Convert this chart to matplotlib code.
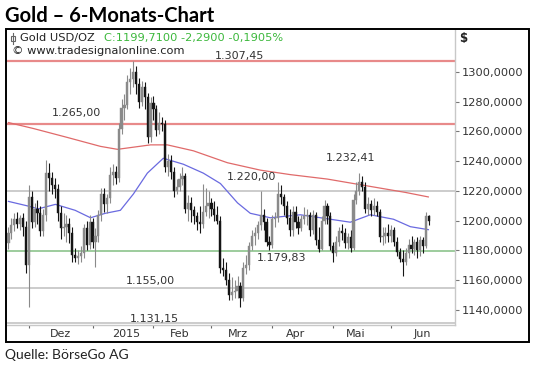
import matplotlib
matplotlib.use("Agg")
import matplotlib.pyplot as plt
from matplotlib.patches import Rectangle
from matplotlib.lines import Line2D

# --- daily bars, index = trading day ---
closes = [1192, 1197, 1201, 1198, 1202, 1196, 1170, 1216, 1199, 1208,
          1205, 1193, 1204, 1232, 1229, 1224, 1221, 1205, 1195, 1196,
          1198, 1192, 1177, 1175, 1176, 1178, 1195, 1184, 1199, 1186,
          1190, 1204, 1218, 1211, 1215, 1231, 1233, 1229, 1262, 1276,
          1278, 1293, 1295, 1300, 1292, 1280, 1290, 1283, 1256, 1279,
          1275, 1261, 1266, 1265, 1236, 1240, 1233, 1220, 1223, 1228,
          1230, 1208, 1212, 1207, 1203, 1199, 1198, 1206, 1210, 1212,
          1208, 1204, 1200, 1168, 1167, 1160, 1150, 1152, 1153, 1156,
          1148, 1168, 1170, 1183, 1190, 1192, 1197, 1204, 1199, 1186,
          1184, 1201, 1202, 1218, 1216, 1210, 1202, 1194, 1206, 1199,
          1195, 1201, 1203, 1204, 1194, 1204, 1187, 1181, 1200, 1210,
          1203, 1183, 1178, 1186, 1193, 1192, 1185, 1189, 1182, 1214,
          1220, 1226, 1223, 1208, 1211, 1207, 1210, 1206, 1189, 1190,
          1192, 1190, 1194, 1186, 1179, 1174, 1172, 1178, 1184, 1181,
          1186, 1180, 1187, 1183, 1203, 1199.71]
highs = [1196, 1202, 1205, 1206, 1204, 1205, 1200, 1224, 1220, 1212,
         1214, 1210, 1208, 1241, 1239, 1233, 1229, 1225, 1210, 1205,
         1204, 1202, 1196, 1182, 1180, 1183, 1198, 1200, 1204, 1202,
         1195, 1207, 1222, 1222, 1218, 1236, 1238, 1237, 1266, 1282,
         1285, 1298, 1303, 1307.45, 1304, 1296, 1294, 1293, 1286, 1283,
         1284, 1278, 1273, 1270, 1268, 1245, 1244, 1236, 1228, 1232,
         1236, 1232, 1217, 1216, 1210, 1206, 1210, 1225, 1222, 1220,
         1215, 1213, 1210, 1203, 1175, 1172, 1165, 1162, 1160, 1163,
         1159, 1172, 1177, 1186, 1194, 1196, 1200, 1220, 1208, 1202,
         1190, 1204, 1206, 1226, 1224, 1218, 1213, 1208, 1210, 1210,
         1203, 1204, 1209, 1208, 1206, 1207, 1206, 1196, 1203, 1214,
         1212, 1206, 1186, 1190, 1196, 1198, 1195, 1192, 1194, 1218,
         1226, 1232.41, 1230, 1226, 1216, 1214, 1215, 1213, 1208, 1196,
         1196, 1198, 1197, 1196, 1189, 1182, 1180, 1182, 1188, 1190,
         1188, 1189, 1190, 1189, 1206, 1204]
lows = [1181, 1188, 1193, 1195, 1194, 1190, 1165, 1142, 1195, 1196,
        1198, 1190, 1190, 1200, 1220, 1218, 1215, 1200, 1188, 1190,
        1186, 1185, 1172, 1172, 1171, 1172, 1175, 1180, 1181, 1182,
        1169, 1186, 1200, 1206, 1205, 1212, 1224, 1225, 1226, 1258,
        1268, 1275, 1285, 1290, 1285, 1276, 1277, 1275, 1252, 1253,
        1268, 1257, 1258, 1260, 1233, 1230, 1228, 1216, 1218, 1220,
        1224, 1205, 1200, 1199, 1198, 1194, 1192, 1195, 1203, 1202,
        1203, 1200, 1198, 1165, 1163, 1157, 1147, 1147, 1148, 1148,
        1142, 1146, 1164, 1167, 1180, 1184, 1188, 1194, 1194, 1183,
        1180, 1182, 1196, 1199, 1211, 1204, 1198, 1190, 1190, 1195,
        1191, 1193, 1198, 1197, 1190, 1191, 1184, 1179, 1180, 1198,
        1198, 1180, 1172, 1176, 1183, 1187, 1182, 1181, 1179, 1180,
        1211, 1217, 1220, 1205, 1204, 1203, 1204, 1203, 1186, 1184,
        1185, 1186, 1186, 1183, 1176, 1172, 1163, 1170, 1175, 1178,
        1177, 1175, 1176, 1178, 1182, 1197]
opens = [1185] + closes[:-1]

# moving averages, read at a few bar positions
ma_red_x = [0, 8.6, 20.3, 31.7, 37.6, 49, 54.8, 63.8, 75.5, 86.9, 97.2, 110, 119, 128, 137, 144.8]
ma_red_y = [1266, 1262, 1256, 1250, 1248, 1251, 1251, 1247, 1239, 1234, 1231, 1228, 1225, 1222, 1219, 1216]
ma_blue_x = [0, 6.5, 10.3, 16.2, 23, 28.3, 33.4, 38.6, 43.1, 47.9, 53.4, 60.3, 67.2, 73.1, 79,
             83.4, 90.3, 100.7, 107.6, 117.9, 124.8, 132.8, 138.6, 144.8]
ma_blue_y = [1213, 1210, 1208, 1211, 1207, 1202, 1205, 1207, 1218, 1232, 1242, 1238, 1232, 1225, 1212,
             1205, 1202, 1204, 1202, 1199, 1204, 1201, 1196, 1194]

# horizontal levels and their labels
red_levels = [1307.45, 1265.00]
gray_levels = [1220.00, 1155.00, 1131.15]
green_levels = [1179.83]
level_texts = ["1.307,45", "1.265,00", "1.232,41", "1.220,00", "1.179,83", "1.155,00", "1.131,15"]
level_text_x = [79.7, 23.4, 117.9, 83.8, 94.1, 49, 50.3]
level_text_y = [1310.5, 1272.5, 1242.5, 1229.5, 1175.0, 1159.5, 1134.0]

month_starts = [7.2, 29.3, 50, 69.7, 91, 112, 132]
month_labels = ["Dez", "2015", "Feb", "Mrz", "Apr", "Mai", "Jun"]
month_label_x = [17.9, 40.7, 59, 79, 99, 119.7, 142.8]
y_ticks = [1140, 1160, 1180, 1200, 1220, 1240, 1260, 1280, 1300]

W, H = 540, 370
fig = plt.figure(figsize=(W / 100, H / 100), dpi=100)
ax = fig.add_axes([7 / W, 1 - 325 / H, 448 / W, 296 / H])

# level lines
for v in red_levels:
    ax.axhline(v, color="#e88a8a", lw=1.6, zorder=1)
for v in gray_levels:
    ax.axhline(v, color="#c4c4c4", lw=1.2, zorder=1)
for v in green_levels:
    ax.axhline(v, color="#8cc48c", lw=1.2, zorder=1)

# moving averages
ax.plot(ma_red_x, ma_red_y, color="#e06a6a", lw=0.9, zorder=2)
ax.plot(ma_blue_x, ma_blue_y, color="#6a6ae0", lw=0.9, zorder=2)

# candles
xs = list(range(len(closes)))
up_col, dn_col = "#8a8a8a", "#151515"
cols = [up_col if c >= o else dn_col for o, c in zip(opens, closes)]
ax.vlines(xs, lows, highs, colors=cols, lw=0.8, zorder=3)
bottoms = [min(o, c) for o, c in zip(opens, closes)]
heights = [max(abs(c - o), 0.6) for o, c in zip(opens, closes)]
ax.bar(xs, heights, bottom=bottoms, width=0.75, color=cols, edgecolor=cols, lw=0.3, zorder=4)

# level labels
for t, x, y in zip(level_texts, level_text_x, level_text_y):
    ax.text(x, y, t, ha="center", va="center", fontsize=8, color="#333333", zorder=5)

ax.set_xlim(-0.5, 154)
ax.set_ylim(1129.9, 1328.9)

# axes styling
for s in ["top", "left"]:
    ax.spines[s].set_visible(False)
for s in ["right", "bottom"]:
    ax.spines[s].set_color("#c8c8c8")
    ax.spines[s].set_linewidth(1.0)

ax.yaxis.tick_right()
ax.set_yticks(y_ticks)
ax.set_yticklabels([f"{v},0000" for v in y_ticks])
ax.tick_params(axis="y", length=3, width=0.8, color="#777777", pad=2,
               labelsize=8.2, labelcolor="#333333")

ax.set_xticks(month_starts)
ax.set_xticklabels([])
ax.set_xticks(month_label_x, minor=True)
ax.set_xticklabels(month_labels, minor=True)
ax.tick_params(axis="x", which="major", length=2.5, width=0.8, color="#666666")
ax.tick_params(axis="x", which="minor", length=0, pad=3, labelsize=8, labelcolor="#333333")

# outer frame
fig.add_artist(Rectangle((6 / W, 1 - 342 / H), 523 / W, 313 / H, transform=fig.transFigure,
                         fill=False, lw=1.4, ec="black", zorder=10))

# header inside chart
icon_x = 13 / W
fig.add_artist(Line2D([icon_x, icon_x], [1 - 33 / H, 1 - 44 / H], transform=fig.transFigure,
                      color="#666666", lw=0.8))
fig.add_artist(Rectangle((11 / W, 1 - 41 / H), 4 / W, 5 / H, transform=fig.transFigure,
                         fill=False, ec="#666666", lw=0.8))
fig.text(20 / W, 1 - 38.5 / H, "Gold USD/OZ", fontsize=8.2, color="#222222", va="center")
fig.text(104 / W, 1 - 38.5 / H, "C:1199,7100 -2,2900 -0,1905%", fontsize=8.2,
         color="#3cb83c", va="center")
fig.text(12 / W, 1 - 51 / H, "\u00a9 www.tradesignalonline.com", fontsize=8.2,
         color="#222222", va="center")
fig.text(459 / W, 1 - 38.5 / H, "$", fontsize=8.5, fontweight="bold", color="#222222", va="center")

# title and source
fig.text(5 / W, 1 - 16 / H, "Gold \u2013 6-Monats-Chart", fontsize=14.5, fontweight="bold",
         family="Lato", va="center")
fig.text(5 / W, 1 - 355 / H, "Quelle: BörseGo AG", fontsize=10, family="Lato", va="center",
         color="#222222")

fig.savefig("out.png", dpi=100)
